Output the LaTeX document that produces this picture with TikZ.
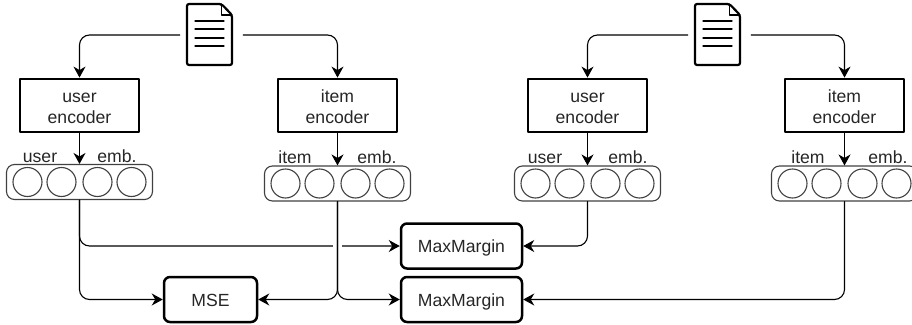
\documentclass[tikz,border=0pt]{standalone}
\usepackage{fontspec}
\setmainfont{Liberation Sans}
\usetikzlibrary{arrows.meta}
\definecolor{cellgray}{rgb}{0.25,0.25,0.25}
\newcommand{\twolines}[1]{\rule{0pt}{22pt}#1\\encoder\strut}
\tikzset{
  txt/.style={font=\fontsize{17.6}{21}\selectfont,text=black!85},
  encoder/.style={draw,txt,line width=2.8pt,minimum width=119pt,minimum height=53pt,inner sep=0pt,align=center},
  lossbox/.style={draw,txt,line width=2.5pt,rounded corners=6pt,minimum height=45pt,inner sep=0pt,text height=17pt,text depth=3.7pt},
  embbox/.style={draw=cellgray,line width=1.1pt,rounded corners=8pt,minimum width=146pt,minimum height=35pt,inner sep=0pt},
  cell/.style={draw=cellgray,line width=1.1pt,circle,minimum size=29pt,inner sep=0pt},
  docnode/.style={minimum width=63pt,minimum height=61pt,inner sep=0pt},
  lbl/.style={txt,inner sep=0pt,anchor=base},
  conn/.style={->,line width=1.1pt,rounded corners=10pt},
  gapline/.style={white,line width=9pt,line cap=butt},
}
\begin{document}
\begin{tikzpicture}[line cap=round,line join=round,>={Stealth[length=11pt,width=12pt,inset=3.5pt]},x=1pt,y=-1pt]
\useasboundingbox (0,0) rectangle (912,324);
% documents
\node[docnode] (doc1) at (211.5,35) {};
\node[docnode] (doc2) at (719.5,35) {};
\foreach \d in {doc1,doc2} {
  \begin{scope}[shift={(\d.center)}]
    \draw[line width=2.2pt,rounded corners=2pt] (-24.5,-31) -- (10,-31) -- (20.5,-20) -- (20.5,30) -- (-24.5,30) -- cycle;
    \draw[line width=1.6pt] (10,-31) -- (10,-20) -- (20.5,-20);
    \foreach \y in {-14,-6,3,11}
      \draw[line width=1.3pt] (-16.5,\y) -- (12.5,\y);
  \end{scope}
}
% encoders
\node[encoder] (enc1) at (79.5,105.5) {\twolines{user}};
\node[encoder] (enc2) at (337.5,105.5) {\twolines{item}};
\node[encoder] (enc3) at (587.5,105.5) {\twolines{user}};
\node[encoder] (enc4) at (844.5,105.5) {\twolines{item}};
% embeddings
\node[embbox] (emb1) at (79.5,182) {};
\node[embbox] (emb2) at (337.5,183.5) {};
\node[embbox] (emb3) at (587.5,183.5) {};
\node[embbox] (emb4) at (844.5,183.5) {};
\foreach \e in {emb1,emb2,emb3,emb4}
  \foreach \i/\dx in {1/-52,2/-18,3/18,4/52}
    \node[cell,xshift=\dx pt] (\e-\i) at (\e) {};
\node[lbl] (lab1) at (40,162) {user};
\node[lbl] (lab2) at (117,162) {emb.};
\node[lbl] (lab3) at (295,163) {item};
\node[lbl] (lab4) at (377,163) {emb.};
\node[lbl] (lab5) at (545,163) {user};
\node[lbl] (lab6) at (628,163) {emb.};
\node[lbl] (lab7) at (808,163) {item};
\node[lbl] (lab8) at (888,163) {emb.};
% losses
\node[lossbox,minimum width=93pt] (mse) at (210.5,299.5) {MSE};
\node[lossbox,minimum width=121pt] (mm1) at (461.5,246) {MaxMargin};
\node[lossbox,minimum width=121pt] (mm2) at (461.5,299.5) {MaxMargin};
% connectors
\draw[conn] (doc1.west) -| (enc1.north);
\draw[conn] (doc1.east) -| (enc2.north);
\draw[conn] (doc2.west) -| (enc3.north);
\draw[conn] (doc2.east) -| (enc4.north);
\foreach \i in {1,2,3,4}
  \draw[conn] (enc\i.south) -- (emb\i.north);
\draw[conn] (emb1.south) |- (mm1.west);
\draw[conn] (emb1.south) |- (mse.west);
\draw[gapline] (emb2.south |- mm1.west) ++(0,-5) -- ++(0,10);
\draw[conn] (emb2.south) |- (mse.east);
\draw[conn] (emb2.south) |- (mm2.west);
\draw[conn] (emb3.south) |- (mm1.east);
\draw[conn] (emb4.south) |- (mm2.east);
\end{tikzpicture}
\end{document}
